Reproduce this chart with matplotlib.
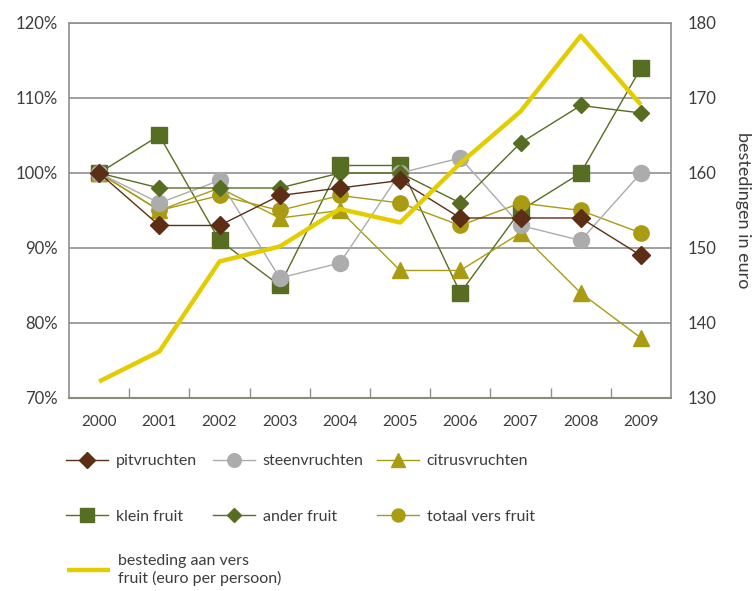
import numpy as np
import matplotlib.pyplot as plt

plt.rcParams['font.family'] = ['Lato', 'DejaVu Sans']

jaren = ['2000', '2001', '2002', '2003', '2004', '2005', '2006', '2007', '2008', '2009']

# index, 2000 = 100%
pitvruchten = [100, 93, 93, 97, 98, 99, 94, 94, 94, 89]
steenvruchten = [100, 96, 99, 86, 88, 100, 102, 93, 91, 100]
citrusvruchten = [100, 95, 98, 94, 95, 87, 87, 92, 84, 78]
klein_fruit = [100, 105, 91, 85, 101, 101, 84, 95, 100, 114]
ander_fruit = [100, 98, 98, 98, 100, 100, 96, 104, 109, 108]
totaal_vers_fruit = [100, 95, 97, 95, 97, 96, 93, 96, 95, 92]

# euro per persoon
besteding = [132.2, 136.2, 148.2, 150.2, 155.2, 153.4, 161.3, 168.2, 178.3, 169.1]

bruin = '#5c2e16'
grijs = '#acacac'
olijf = '#a99b12'
groen = '#566d22'
geel = '#e3cd00'
tekst = '#3c3c3c'
lijn = '#8f8f8f'

W, H = 755, 591
fig = plt.figure(figsize=(W / 100, H / 100), dpi=100)
ax = fig.add_axes([0.0914, 0.3266, 0.7974, 0.6345])
x = np.arange(len(jaren))

ax.plot(x, klein_fruit, color=groen, lw=1, marker='s', ms=12, zorder=2, label='klein fruit')
ax.plot(x, citrusvruchten, color=olijf, lw=1, marker='^', ms=12, zorder=3, label='citrusvruchten')
ax.plot(x, totaal_vers_fruit, color=olijf, lw=1, marker='o', ms=11, zorder=3.5, label='totaal vers fruit')
ax.plot(x, steenvruchten, color=grijs, lw=1, marker='o', ms=11.5, zorder=4, label='steenvruchten')
ax.plot(x, ander_fruit, color=groen, lw=1, marker='D', ms=8, zorder=5, label='ander fruit')
ax.plot(x, pitvruchten, color=bruin, lw=1, marker='D', ms=9.5, zorder=6, label='pitvruchten')

ax.set_xlim(-0.5, len(jaren) - 0.5)
ax.set_ylim(70, 120)
ax.set_yticks(range(70, 121, 10))
ax.set_yticklabels([f'{v}%' for v in range(70, 121, 10)])
ax.set_xticks(x)
ax.set_xticklabels(jaren)
ax.set_xticks(np.arange(0.5, len(jaren) - 1, 1), minor=True)
ax.grid(axis='y', color=lijn, lw=1.2, zorder=0)
ax.set_axisbelow(True)
ax.tick_params(axis='x', which='major', length=0, pad=12, labelsize=11, colors=tekst)
ax.tick_params(axis='x', which='minor', direction='in', length=7, color=lijn, width=1)
ax.tick_params(axis='y', length=0, pad=8, labelsize=12, colors=tekst)
for kant in ['left', 'right', 'top']:
    ax.spines[kant].set_color(lijn)
    ax.spines[kant].set_linewidth(1.2)
ax.spines['bottom'].set_color('#8c8a78')
ax.spines['bottom'].set_linewidth(1.5)

ax2 = ax.twinx()
ax2.plot(x, besteding, color=geel, lw=3.2, solid_capstyle='butt')
ax2.set_ylim(130, 180)
ax2.set_yticks(range(130, 181, 10))
ax2.tick_params(axis='y', length=0, pad=12, labelsize=12, colors=tekst)
for s in ax2.spines.values():
    s.set_visible(False)
ax2.set_ylabel('bestedingen in euro', rotation=-90, labelpad=25, fontsize=13, color=tekst)

# legenda: drie kolommen van twee, daaronder de bestedingslijn
handles = {l.get_label(): l for l in ax.get_lines()}
kolommen = [(66, ['pitvruchten', 'klein fruit']),
            (213, ['steenvruchten', 'ander fruit']),
            (377, ['citrusvruchten', 'totaal vers fruit'])]
for x0, namen in kolommen:
    fig.legend([handles[n] for n in namen], namen, loc='center left',
               bbox_to_anchor=(x0 / W, 1 - 489 / H), frameon=False,
               borderpad=0, borderaxespad=0, fontsize=11.5, labelcolor=tekst,
               handlelength=2.6, handletextpad=0.5, labelspacing=2.6,
               markerscale=0.85)

bl = ax2.get_lines()[0]
fig.legend([bl], ['besteding aan vers\nfruit (euro per persoon)'], loc='center left',
           bbox_to_anchor=(67 / W, 1 - 570 / H), frameon=False,
           borderpad=0, borderaxespad=0, fontsize=11.5, labelcolor=tekst,
           handlelength=2.7, handletextpad=0.5)

fig.savefig('out.png', dpi=100)
